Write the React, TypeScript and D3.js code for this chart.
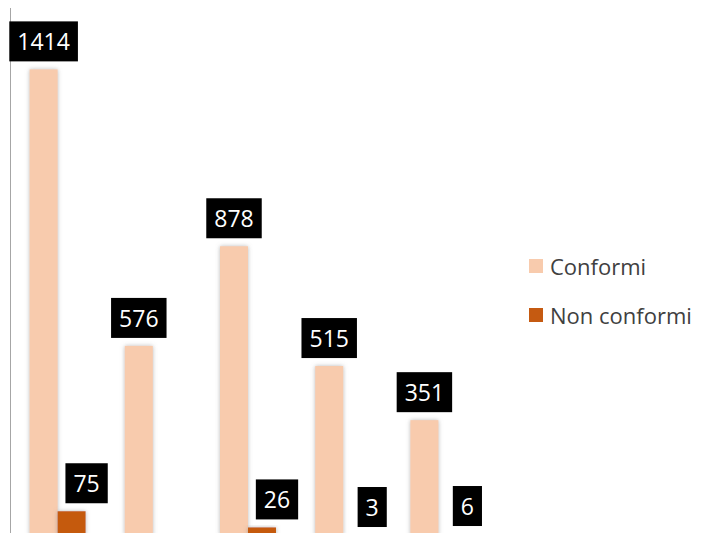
import React from "react";
import * as d3 from "d3";

const categories = ["Gruppo 1", "Gruppo 2", "Gruppo 3", "Gruppo 4", "Gruppo 5"];
const seriesNames = ["Conformi", "Non conformi"];
const conformi = [1414, 576, 878, 515, 351];
const nonConformi: (number | null)[] = [75, null, 26, 3, 6];
const colors = ["#F8CBAD", "#C55A11"];

const W = 703;
const H = 533;
const FONT = "'Open Sans', 'Liberation Sans', sans-serif";

export default function App() {
  const x0 = d3
    .scaleBand<string>()
    .domain(categories)
    .range([10, 486])
    .paddingInner(0.412)
    .paddingOuter(0.206);
  const x1 = d3.scaleBand<string>().domain(seriesNames).range([0, x0.bandwidth()]).padding(0);
  const y = d3.scaleLinear().domain([0, 1600]).range([536, 8]);

  const data = categories.map((c, i) => [conformi[i], nonConformi[i]]);
  const fontSize = 23;
  const digitW = fontSize * 0.572;

  return (
    <div style={{ position: "fixed", left: 0, top: 0 }}>
      <svg width={W} height={H} style={{ display: "block", background: "#fff" }}>
        <defs>
          <filter id="sh" x="-50%" y="-20%" width="200%" height="140%">
            <feDropShadow dx="0" dy="0" stdDeviation="2" floodColor="#808080" floodOpacity="0.55" />
          </filter>
        </defs>
        <line x1={10.5} x2={10.5} y1={y(1600)} y2={H} stroke="#a6a6a6" strokeWidth={1} />
        {categories.map((c, i) => (
          <g key={c} transform={`translate(${x0(c)},0)`}>
            {seriesNames.map((s, j) => {
              const v = data[i][j];
              if (v == null) return null;
              return (
                <rect
                  key={s}
                  x={x1(s)!}
                  y={y(v)}
                  width={x1.bandwidth()}
                  height={y(0) - y(v)}
                  fill={colors[j]}
                  filter="url(#sh)"
                />
              );
            })}
          </g>
        ))}
        {categories.map((c, i) => (
          <g key={c + "-l"} transform={`translate(${x0(c)},0)`}>
            {seriesNames.map((s, j) => {
              const v = data[i][j];
              if (v == null) return null;
              const txt = String(v);
              const bw = txt.length * digitW + 16;
              const bh = 40;
              const cx = x1(s)! + x1.bandwidth() / 2 + (j === 1 ? 15 : 0);
              const bottom = y(v) - 8;
              return (
                <g key={s}>
                  <rect x={cx - bw / 2} y={bottom - bh} width={bw} height={bh} fill="#000" />
                  <text
                    x={cx}
                    y={bottom - bh / 2}
                    textAnchor="middle"
                    dominantBaseline="central"
                    fill="#fff"
                    fontFamily={FONT}
                    fontSize={fontSize}
                  >
                    {txt}
                  </text>
                </g>
              );
            })}
          </g>
        ))}
        {seriesNames.map((s, j) => (
          <g key={s + "-lg"} transform={`translate(529,${259 + j * 49})`}>
            <rect x={0} y={0} width={14} height={14} fill={colors[j]} />
            <text
              x={21}
              y={7}
              dominantBaseline="central"
              fill="#404040"
              fontFamily={FONT}
              fontSize={22}
            >
              {s}
            </text>
          </g>
        ))}
      </svg>
    </div>
  );
}
